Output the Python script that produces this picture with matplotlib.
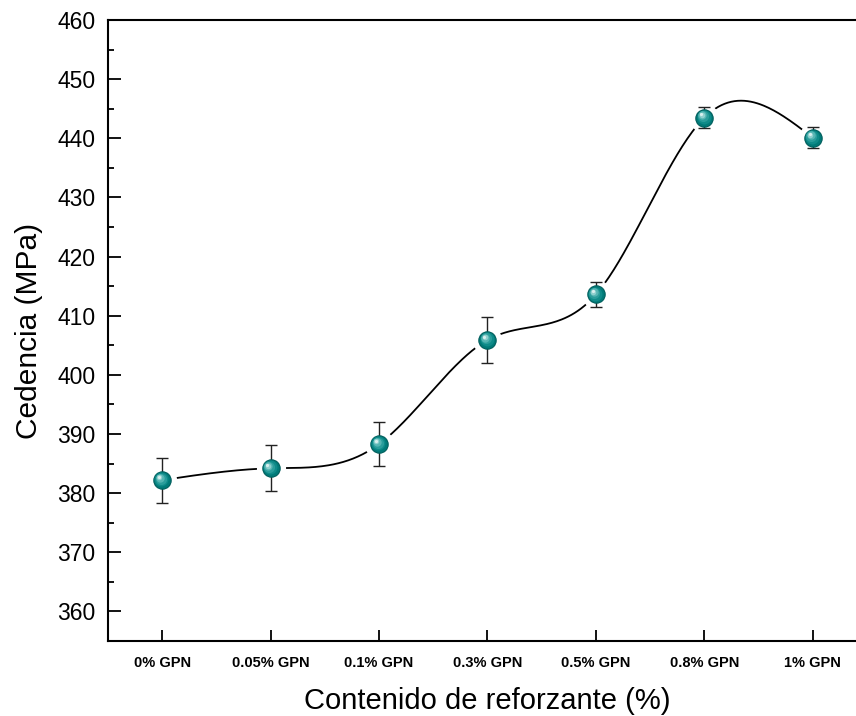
import numpy as np
import matplotlib
matplotlib.use("Agg")
import matplotlib.pyplot as plt
from matplotlib import transforms
from matplotlib.ticker import MultipleLocator

categories = ["0% GPN", "0.05% GPN", "0.1% GPN", "0.3% GPN", "0.5% GPN", "0.8% GPN", "1% GPN"]
yield_mpa = [382.2, 384.2, 388.3, 405.9, 413.6, 443.5, 440.1]
yield_err = [3.8, 3.9, 3.7, 3.9, 2.1, 1.8, 1.8]

plt.rcParams['font.family'] = ['Liberation Sans', 'DejaVu Sans']

def natural_spline(x, y, n=400):
    x = np.asarray(x, float); y = np.asarray(y, float)
    k = len(x)
    h = np.diff(x)
    A = np.zeros((k, k)); b = np.zeros(k)
    A[0, 0] = 1; A[-1, -1] = 1
    for i in range(1, k - 1):
        A[i, i - 1] = h[i - 1]
        A[i, i] = 2 * (h[i - 1] + h[i])
        A[i, i + 1] = h[i]
        b[i] = 3 * ((y[i + 1] - y[i]) / h[i] - (y[i] - y[i - 1]) / h[i - 1])
    c = np.linalg.solve(A, b)
    xs = np.linspace(x[0], x[-1], n)
    ys = np.empty_like(xs)
    for j, xv in enumerate(xs):
        i = min(np.searchsorted(x, xv, side='right') - 1, k - 2)
        dx = xv - x[i]
        bi = (y[i + 1] - y[i]) / h[i] - h[i] * (2 * c[i] + c[i + 1]) / 3
        di = (c[i + 1] - c[i]) / (3 * h[i])
        ys[j] = y[i] + bi * dx + c[i] * dx ** 2 + di * dx ** 3
    return xs, ys

fig = plt.figure(figsize=(8.56, 7.16), dpi=100)
ax = fig.add_axes([108 / 856, 1 - 641 / 716, (867 - 108) / 856, (641 - 20) / 716])

x = np.arange(len(categories))
xs, ys = natural_spline(x, yield_mpa)
ax.plot(xs, ys, color='black', lw=1.3, zorder=1, solid_capstyle='butt')
# white halo to make gaps around markers
ax.plot(x, yield_mpa, 'o', ms=20, color='white', mec='white', zorder=2)
ax.errorbar(x, yield_mpa, yerr=yield_err, fmt='none', ecolor='#222222', elinewidth=1.0,
            capsize=4.5, capthick=1.0, zorder=3)
# sphere markers
ax.plot(x, yield_mpa, 'o', ms=12.5, color='#007a78', mec='#005e5c', mew=0.8, zorder=4)
layers = [(10.0, '#0f8b89', -0.6, 0.6), (8.0, '#2a9d9b', -1.1, 1.1), (6.0, '#56b5b3', -1.6, 1.6),
          (4.0, '#8fd0ce', -2.0, 2.0), (2.3, '#d8efee', -2.3, 2.3)]
for k, (ms, col, dx, dy) in enumerate(layers):
    tr = transforms.offset_copy(ax.transData, fig=fig, x=dx, y=dy, units='points')
    ax.plot(x, yield_mpa, 'o', ms=ms, color=col, mec='none', zorder=5 + k, transform=tr)

ax.set_xlim(-0.5, 6.5)
ax.set_ylim(355, 460)
ax.set_xticks(x)
ax.set_xticklabels(categories, fontsize=10.5, fontweight='bold')
ax.yaxis.set_major_locator(MultipleLocator(10))
ax.yaxis.set_minor_locator(MultipleLocator(5))
ax.set_yticks(np.arange(360, 461, 10))
ax.tick_params(axis='y', which='major', direction='in', length=9, width=1.3, labelsize=16.5, pad=9,
               right=False)
ax.tick_params(axis='y', which='minor', direction='in', length=4.5, width=1.3, right=False)
ax.tick_params(axis='x', which='major', direction='in', length=8, width=1.3, pad=11, top=False)
ax.spines['right'].set_visible(False)
for s in ax.spines.values():
    s.set_linewidth(1.5)

ax.set_xlabel("Contenido de reforzante (%)", fontsize=21, labelpad=12)
ax.set_ylabel("Cedencia (MPa)", fontsize=21.5, labelpad=10)

fig.savefig("out.png", dpi=100)
